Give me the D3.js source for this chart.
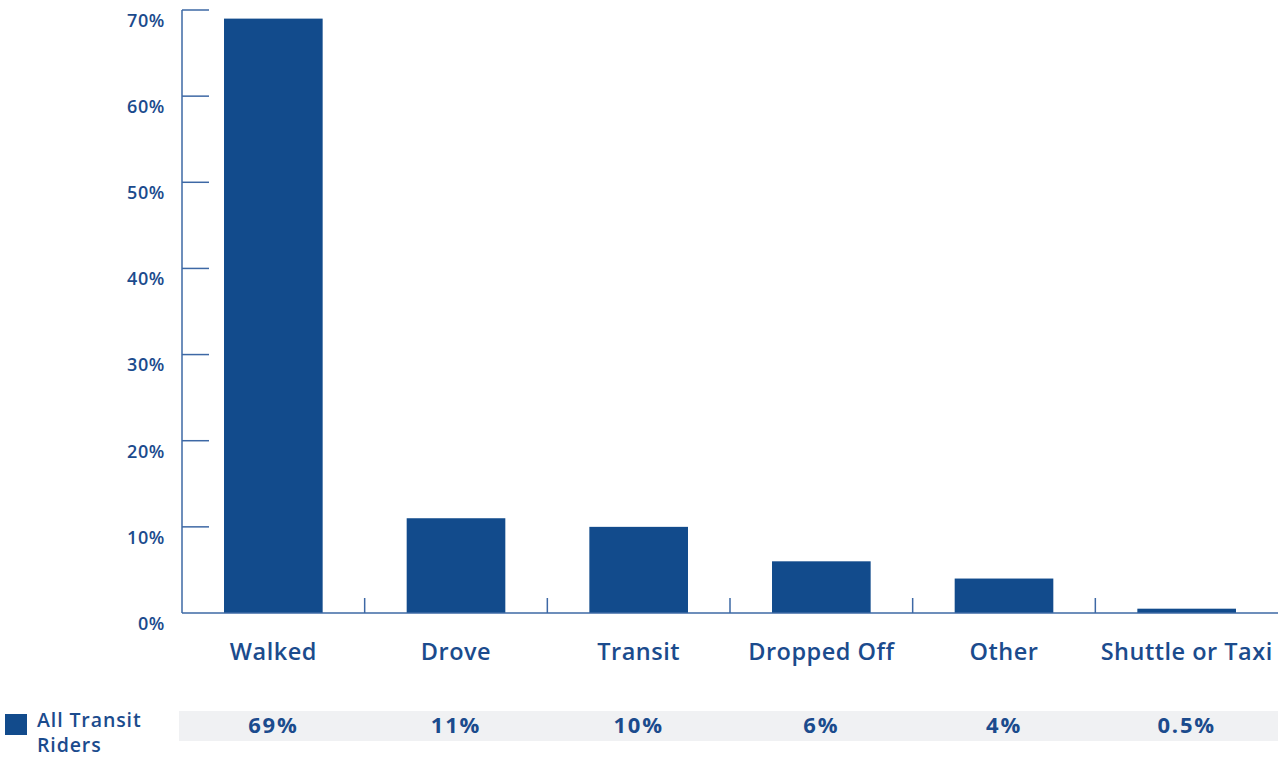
<!DOCTYPE html>
<html><head><meta charset="utf-8">
<script src="https://cdn.jsdelivr.net/npm/d3@7"></script>
<style>
html,body{margin:0;padding:0;background:#fff;}
svg{display:block;}
text{font-family:"Open Sans","Noto Sans",sans-serif;}
</style></head>
<body>
<svg id="chart" width="1278" height="759"></svg>
<script>
const categories = ["Walked","Drove","Transit","Dropped Off","Other","Shuttle or Taxi"];
const values = [69, 11, 10, 6, 4, 0.5];
const valueLabels = ["69%","11%","10%","6%","4%","0.5%"];
const yTicks = [0,10,20,30,40,50,60,70];
const seriesName = ["All Transit","Riders"];

const barColor = "#124b8c";
const axisColor = "#3d68a5";
const textColor = "#1b4b8d";

const svg = d3.select("#chart");
const mLeft = 182, mRight = 1278, mTop = 10, mBottom = 613;

const x = d3.scaleBand().domain(categories).range([mLeft, mRight]).paddingInner(0).paddingOuter(0);
const y = d3.scaleLinear().domain([0,70]).range([mBottom, mTop]);

const barW = x.bandwidth()*0.54;

svg.selectAll("rect.bar").data(values).enter().append("rect")
  .attr("class","bar")
  .attr("x",(d,i)=>x(categories[i]) + x.bandwidth()/2 - barW/2)
  .attr("y",d=>y(d))
  .attr("width",barW)
  .attr("height",d=>mBottom - y(d))
  .attr("fill",barColor);

svg.append("line").attr("x1",mLeft).attr("x2",mLeft).attr("y1",mTop).attr("y2",mBottom)
  .attr("stroke",axisColor).attr("stroke-width",1.5);
svg.selectAll("line.yt").data(yTicks.filter(d=>d>0)).enter().append("line")
  .attr("x1",mLeft).attr("x2",mLeft+27).attr("y1",d=>y(d)).attr("y2",d=>y(d))
  .attr("stroke",axisColor).attr("stroke-width",1.5);
svg.selectAll("text.yl").data(yTicks).enter().append("text")
  .attr("x",165).attr("y",d=>y(d)+12)
  .attr("text-anchor","end").attr("dominant-baseline","middle")
  .attr("fill",textColor).attr("font-size",18).attr("font-weight",600)
  .attr("letter-spacing",0.6)
  .text(d=>d+"%");

svg.append("line").attr("x1",mLeft).attr("x2",mRight).attr("y1",mBottom).attr("y2",mBottom)
  .attr("stroke",axisColor).attr("stroke-width",1.5);
svg.selectAll("line.xt").data(categories.slice(1)).enter().append("line")
  .attr("x1",d=>x(d)).attr("x2",d=>x(d)).attr("y1",mBottom-15).attr("y2",mBottom)
  .attr("stroke",axisColor).attr("stroke-width",1.5);

svg.selectAll("text.cat").data(categories).enter().append("text")
  .attr("x",d=>x(d)+x.bandwidth()/2).attr("y",654)
  .attr("text-anchor","middle").attr("dominant-baseline","middle")
  .attr("fill",textColor).attr("font-size",23.5).attr("font-weight",600)
  .attr("letter-spacing",0.5)
  .text(d=>d);

svg.append("rect").attr("x",179).attr("y",711).attr("width",mRight-179).attr("height",30)
  .attr("fill","#f0f1f3");
svg.selectAll("text.val").data(valueLabels).enter().append("text")
  .attr("x",(d,i)=>x(categories[i])+x.bandwidth()/2).attr("y",727)
  .attr("text-anchor","middle").attr("dominant-baseline","middle")
  .attr("fill",textColor).attr("font-size",22).attr("font-weight",700)
  .attr("letter-spacing",1.8)
  .text(d=>d);

svg.append("rect").attr("x",5).attr("y",714).attr("width",22).attr("height",21).attr("fill",barColor);
svg.selectAll("text.leg").data(seriesName).enter().append("text")
  .attr("x",37).attr("y",(d,i)=>722+i*25)
  .attr("dominant-baseline","middle")
  .attr("fill",textColor).attr("font-size",19.5).attr("font-weight",600)
  .attr("letter-spacing",0.9)
  .text(d=>d);
</script>
</body></html>
